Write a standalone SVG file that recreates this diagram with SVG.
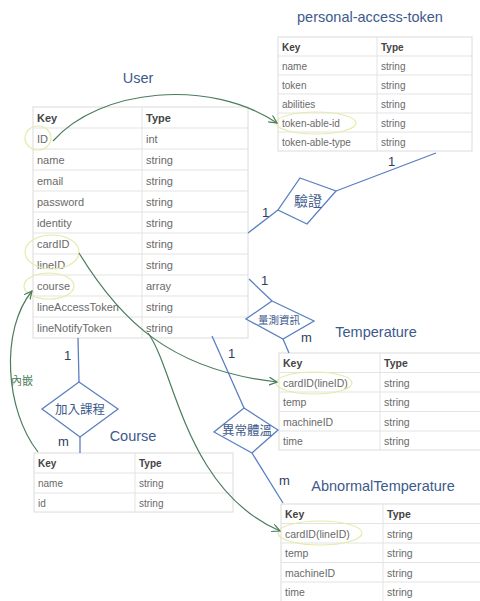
<svg xmlns="http://www.w3.org/2000/svg" width="480" height="601" viewBox="0 0 480 601">
<style>
.title{font-family:"Liberation Sans",Arial,sans-serif;font-size:14.5px;fill:#3d5a8c}
.cell{font-family:"Liberation Sans",Arial,sans-serif;fill:#6a6a6a}
.hdr{font-family:"Liberation Sans",Arial,sans-serif;fill:#444;font-weight:bold}
.grid{stroke:#e3e3e3;stroke-width:1;fill:none}
.box{fill:#fff;stroke:#dcdcdc;stroke-width:1}
.rel{fill:#fff;stroke:#5a7fc2;stroke-width:1.3}
.relt{font-family:"Liberation Sans","Noto Sans CJK TC",sans-serif;fill:#3d5a8c;text-anchor:middle}
.ln{stroke:#5a7fc2;stroke-width:1.3;fill:none}
.card{font-family:"Liberation Sans",Arial,sans-serif;font-size:13px;fill:#2d3e5e}
.arr{stroke:#4a7d5c;stroke-width:1.2;fill:none;marker-end:url(#ah)}
.hl{stroke:#e6eba8;stroke-width:1.2;fill:none}
</style>
<defs>
<marker id="ah" markerWidth="10" markerHeight="10" refX="8" refY="4" orient="auto" markerUnits="userSpaceOnUse">
<path d="M0,0 L8,4 L0,8" fill="none" stroke="#4a7d5c" stroke-width="1.2"/>
</marker>
</defs>
<rect width="480" height="601" fill="#fff"/>

<g id="pat">
<text class="title" x="370" y="22" text-anchor="middle">personal-access-token</text>
<rect class="box" x="278" y="37" width="194" height="114"/>
<path class="grid" d="M278,56H472M278,75H472M278,94H472M278,113H472M278,132H472M377,37V151"/>
<g font-size="10">
<text class="hdr" x="282" y="50.5">Key</text><text class="hdr" x="381" y="50.5">Type</text>
<text class="cell" x="282" y="69.5">name</text><text class="cell" x="381" y="69.5">string</text>
<text class="cell" x="282" y="88.5">token</text><text class="cell" x="381" y="88.5">string</text>
<text class="cell" x="282" y="107.5">abilities</text><text class="cell" x="381" y="107.5">string</text>
<text class="cell" x="282" y="126.5">token-able-id</text><text class="cell" x="381" y="126.5">string</text>
<text class="cell" x="282" y="145.5">token-able-type</text><text class="cell" x="381" y="145.5">string</text>
</g>
<ellipse class="hl" cx="316" cy="123" rx="40" ry="11"/>
</g>

<g id="user">
<text class="title" x="138" y="83" text-anchor="middle">User</text>
<rect class="box" x="33" y="107" width="215" height="231"/>
<path class="grid" d="M33,128H248M33,149H248M33,170H248M33,191H248M33,212H248M33,233H248M33,254H248M33,275H248M33,296H248M33,317H248M142,107V338"/>
<g font-size="11">
<text class="hdr" x="37" y="122">Key</text><text class="hdr" x="146" y="122">Type</text>
<text class="cell" x="37" y="143">ID</text><text class="cell" x="146" y="143">int</text>
<text class="cell" x="37" y="164">name</text><text class="cell" x="146" y="164">string</text>
<text class="cell" x="37" y="185">email</text><text class="cell" x="146" y="185">string</text>
<text class="cell" x="37" y="206">password</text><text class="cell" x="146" y="206">string</text>
<text class="cell" x="37" y="227">identity</text><text class="cell" x="146" y="227">string</text>
<text class="cell" x="37" y="248">cardID</text><text class="cell" x="146" y="248">string</text>
<text class="cell" x="37" y="269">lineID</text><text class="cell" x="146" y="269">string</text>
<text class="cell" x="37" y="290">course</text><text class="cell" x="146" y="290">array</text>
<text class="cell" x="37" y="311">lineAccessToken</text><text class="cell" x="146" y="311">string</text>
<text class="cell" x="37" y="332">lineNotifyToken</text><text class="cell" x="146" y="332">string</text>
</g>
<ellipse class="hl" cx="38" cy="138" rx="13" ry="12"/>
<ellipse class="hl" cx="52" cy="252" rx="27" ry="17"/>
<ellipse class="hl" cx="49" cy="286" rx="25" ry="13"/>
</g>

<g id="course">
<text class="title" x="133" y="441" text-anchor="middle">Course</text>
<rect class="box" x="34" y="453" width="199" height="59"/>
<path class="grid" d="M34,473H233M34,493H233M135,453V512"/>
<g font-size="10">
<text class="hdr" x="38" y="467">Key</text><text class="hdr" x="139" y="467">Type</text>
<text class="cell" x="38" y="487">name</text><text class="cell" x="139" y="487">string</text>
<text class="cell" x="38" y="506.5">id</text><text class="cell" x="139" y="506.5">string</text>
</g>
</g>

<g id="temperature">
<text class="title" x="376" y="337" text-anchor="middle">Temperature</text>
<rect class="box" x="279" y="353" width="203" height="97"/>
<path class="grid" d="M279,372.5H480M279,392H480M279,411.5H480M279,431H480M380,353V450"/>
<g font-size="10.5">
<text class="hdr" x="283" y="367">Key</text><text class="hdr" x="384" y="367">Type</text>
<text class="cell" x="283" y="386.5">cardID(lineID)</text><text class="cell" x="384" y="386.5">string</text>
<text class="cell" x="283" y="406">temp</text><text class="cell" x="384" y="406">string</text>
<text class="cell" x="283" y="425.5">machineID</text><text class="cell" x="384" y="425.5">string</text>
<text class="cell" x="283" y="445">time</text><text class="cell" x="384" y="445">string</text>
</g>
<ellipse class="hl" cx="314" cy="383" rx="38" ry="11"/>
</g>

<g id="abnormal">
<text class="title" x="383" y="491" text-anchor="middle">AbnormalTemperature</text>
<rect class="box" x="281" y="504" width="201" height="98"/>
<path class="grid" d="M281,523.5H480M281,543H480M281,562.5H480M281,582H480M383,504V602"/>
<g font-size="10.5">
<text class="hdr" x="285" y="518">Key</text><text class="hdr" x="387" y="518">Type</text>
<text class="cell" x="285" y="537.5">cardID(lineID)</text><text class="cell" x="387" y="537.5">string</text>
<text class="cell" x="285" y="557">temp</text><text class="cell" x="387" y="557">string</text>
<text class="cell" x="285" y="576.5">machineID</text><text class="cell" x="387" y="576.5">string</text>
<text class="cell" x="285" y="596">time</text><text class="cell" x="387" y="596">string</text>
</g>
<ellipse class="hl" cx="320" cy="533" rx="42" ry="12"/>
</g>

<g id="connectors">
<path class="ln" d="M248,233L278,210"/>
<path class="ln" d="M336,191L436,153"/>
<path class="ln" d="M249,279L272,301"/>
<path class="ln" d="M283,339L289,353"/>
<path class="ln" d="M212,336L244,408"/>
<path class="ln" d="M252,453L283,503"/>
<path class="ln" d="M78,338L79,382"/>
<path class="ln" d="M80,437L80,453"/>
<text class="card" x="262" y="217">1</text>
<text class="card" x="388" y="166">1</text>
<text class="card" x="261" y="285">1</text>
<text class="card" x="301" y="342">m</text>
<text class="card" x="228" y="358">1</text>
<text class="card" x="279" y="485">m</text>
<text class="card" x="64" y="360">1</text>
<text class="card" x="58" y="446">m</text>
<path class="arr" d="M53,141C100,88 210,78 277,123"/>
<path class="arr" d="M79,253C120,320 170,370 277,382"/>
<path class="arr" d="M148,333C175,370 185,490 280,531"/>
<path class="arr" d="M38,452C5,410 0,330 32,291"/>
<text x="11" y="385" font-family="Liberation Sans,'Noto Sans CJK TC',sans-serif" font-size="11" fill="#4a7d5c">內嵌</text>
</g>

<g id="rel-verify">
<polygon class="rel" points="300,178 336,191 307,224 278,210"/>
<text class="relt" x="308" y="206" font-size="14">驗證</text>
</g>
<g id="rel-measure">
<polygon class="rel" points="272,301 314,321 283,339 246,319"/>
<text class="relt" x="279" y="324" font-size="10.5">量測資訊</text>
</g>
<g id="rel-abnormal">
<polygon class="rel" points="244,408 278,430 252,453 214,432"/>
<text class="relt" x="247" y="435" font-size="12.5">異常體溫</text>
</g>
<g id="rel-course">
<polygon class="rel" points="79,382 118,409 80,437 42,409"/>
<text class="relt" x="80" y="414" font-size="12.5">加入課程</text>
</g>
</svg>
